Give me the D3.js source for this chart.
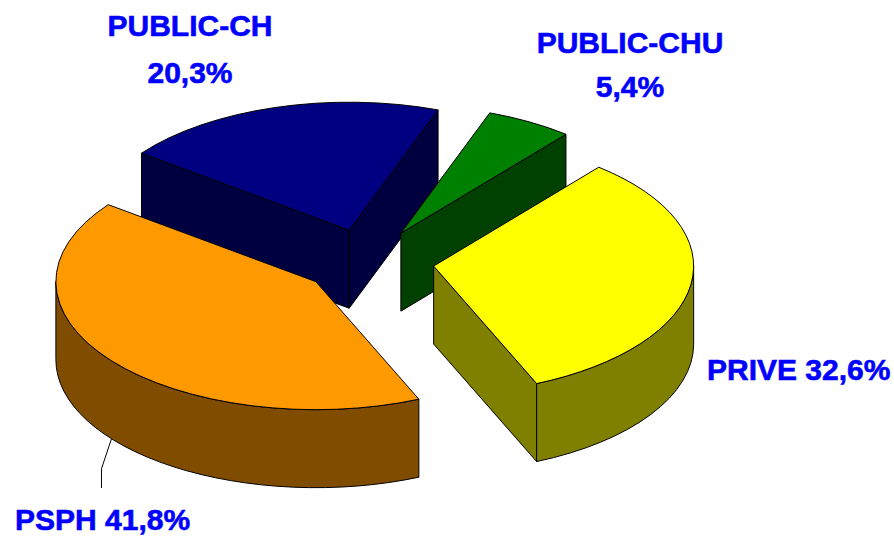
<!DOCTYPE html>
<html>
<head>
<meta charset="utf-8">
<script src="https://cdn.jsdelivr.net/npm/d3@7"></script>
<style>
  html, body { margin: 0; padding: 0; background: #fff; }
  svg { display: block; }
  text { font-family: "Liberation Sans", Arial, sans-serif; font-weight: bold; font-size: 30px; fill: #0000ff; stroke: #0000ff; stroke-width: 0.6px; }
</style>
</head>
<body>
<div id="chart"></div>
<script>
// data, clockwise from the first slice
const categories = ["PUBLIC-CHU", "PRIVE", "PSPH", "PUBLIC-CH"]
const shares = [5.4, 32.6, 41.8, 20.3]
const shareLabels = ["5,4%", "32,6%", "41,8%", "20,3%"]
const topColors = ["#008000", "#ffff00", "#ff9900", "#000080"]
const sideColors = ["#004000", "#808000", "#7f4c00", "#000040"]

const width = 894, height = 536

// 3d pie layout
const cx = 368, cy = 261.5      // centre of the top face
const rx = 260, ry = 128        // ellipse radii
const depth = 78                // thickness of the pie
const explode = 0.255           // slice offset, fraction of the radius
const firstAngle = 20 * Math.PI / 180

// label placement (layout only)
const labelLayout = [
  {lines: 2, x: 630, y: 53, dy: 44, anchor: "middle"},
  {lines: 1, x: 707, y: 380, anchor: "start"},
  {lines: 1, x: 15, y: 530, anchor: "start", leader: true},
  {lines: 2, x: 190, y: 36, dy: 47, anchor: "middle"}
]

const svg = d3.select("#chart").append("svg")
  .attr("width", width)
  .attr("height", height)

const pie = d3.pie().sort(null).value(d => d)
  .startAngle(firstAngle).endAngle(firstAngle + 2 * Math.PI)

const arcs = pie(shares).map((a, i) => {
  const mid = (a.startAngle + a.endAngle) / 2
  return {
    ...a, i, mid,
    ox: explode * rx * Math.sin(mid),
    oy: -explode * ry * Math.cos(mid)
  }
})

// point on a slice: angle t, radius fraction r, z = 1 top / 0 bottom
function pt(s, t, r, z) {
  return [cx + s.ox + rx * r * Math.sin(t), cy + s.oy - ry * r * Math.cos(t) + (1 - z) * depth]
}

const f = p => p[0].toFixed(2) + "," + p[1].toFixed(2)

function topPath(s) {
  const large = (s.endAngle - s.startAngle) > Math.PI ? 1 : 0
  return "M" + f(pt(s, 0, 0, 1)) +
    "L" + f(pt(s, s.startAngle, 1, 1)) +
    `A${rx},${ry} 0 ${large} 1 ` + f(pt(s, s.endAngle, 1, 1)) + "Z"
}

function radialPath(s, t) {
  return "M" + f(pt(s, 0, 0, 1)) + "L" + f(pt(s, t, 1, 1)) +
    "L" + f(pt(s, t, 1, 0)) + "L" + f(pt(s, 0, 0, 0)) + "Z"
}

// front part of the curved outer wall (angles between 90 and 270 deg)
function outerPaths(s) {
  const out = []
  for (let k = -1; k <= 1; k++) {
    const lo = Math.PI / 2 + k * 2 * Math.PI, hi = 3 * Math.PI / 2 + k * 2 * Math.PI
    const a0 = Math.max(s.startAngle, lo), a1 = Math.min(s.endAngle, hi)
    if (a1 - a0 < 1e-4) continue
    out.push("M" + f(pt(s, a0, 1, 1)) +
      `A${rx},${ry} 0 0 1 ` + f(pt(s, a1, 1, 1)) +
      "L" + f(pt(s, a1, 1, 0)) +
      `A${rx},${ry} 0 0 0 ` + f(pt(s, a0, 1, 0)) + "Z")
  }
  return out
}

// back to front
const order = arcs.slice().sort((a, b) => a.oy - b.oy)

const g = svg.append("g")
  .attr("stroke", "#000")
  .attr("stroke-width", 1)
  .attr("stroke-linejoin", "round")

order.forEach(s => {
  const sg = g.append("g").attr("class", "slice")
  if (Math.sin(s.startAngle) < 0)
    sg.append("path").attr("d", radialPath(s, s.startAngle)).attr("fill", sideColors[s.i])
  if (Math.sin(s.endAngle) > 0)
    sg.append("path").attr("d", radialPath(s, s.endAngle)).attr("fill", sideColors[s.i])
  outerPaths(s).forEach(d => sg.append("path").attr("d", d).attr("fill", sideColors[s.i]))
  sg.append("path").attr("d", topPath(s)).attr("fill", topColors[s.i])
})

// labels
arcs.forEach(s => {
  const L = labelLayout[s.i]
  const t = svg.append("text").attr("text-anchor", L.anchor)
  if (L.lines === 2) {
    t.append("tspan").attr("x", L.x).attr("y", L.y).text(categories[s.i])
    t.append("tspan").attr("x", L.x).attr("y", L.y + L.dy).text(shareLabels[s.i])
  } else {
    t.attr("x", L.x).attr("y", L.y).text(categories[s.i] + " " + shareLabels[s.i])
  }
  if (L.leader) {
    const a = pt(s, s.mid, 1, 0)
    const elbow = [a[0] - 10, a[1] + 30]
    const end = [elbow[0], L.y - 42]
    svg.append("path")
      .attr("d", d3.line()([a, elbow, end]))
      .attr("fill", "none")
      .attr("stroke", "#000")
      .attr("stroke-width", 1)
  }
})
</script>
</body>
</html>
